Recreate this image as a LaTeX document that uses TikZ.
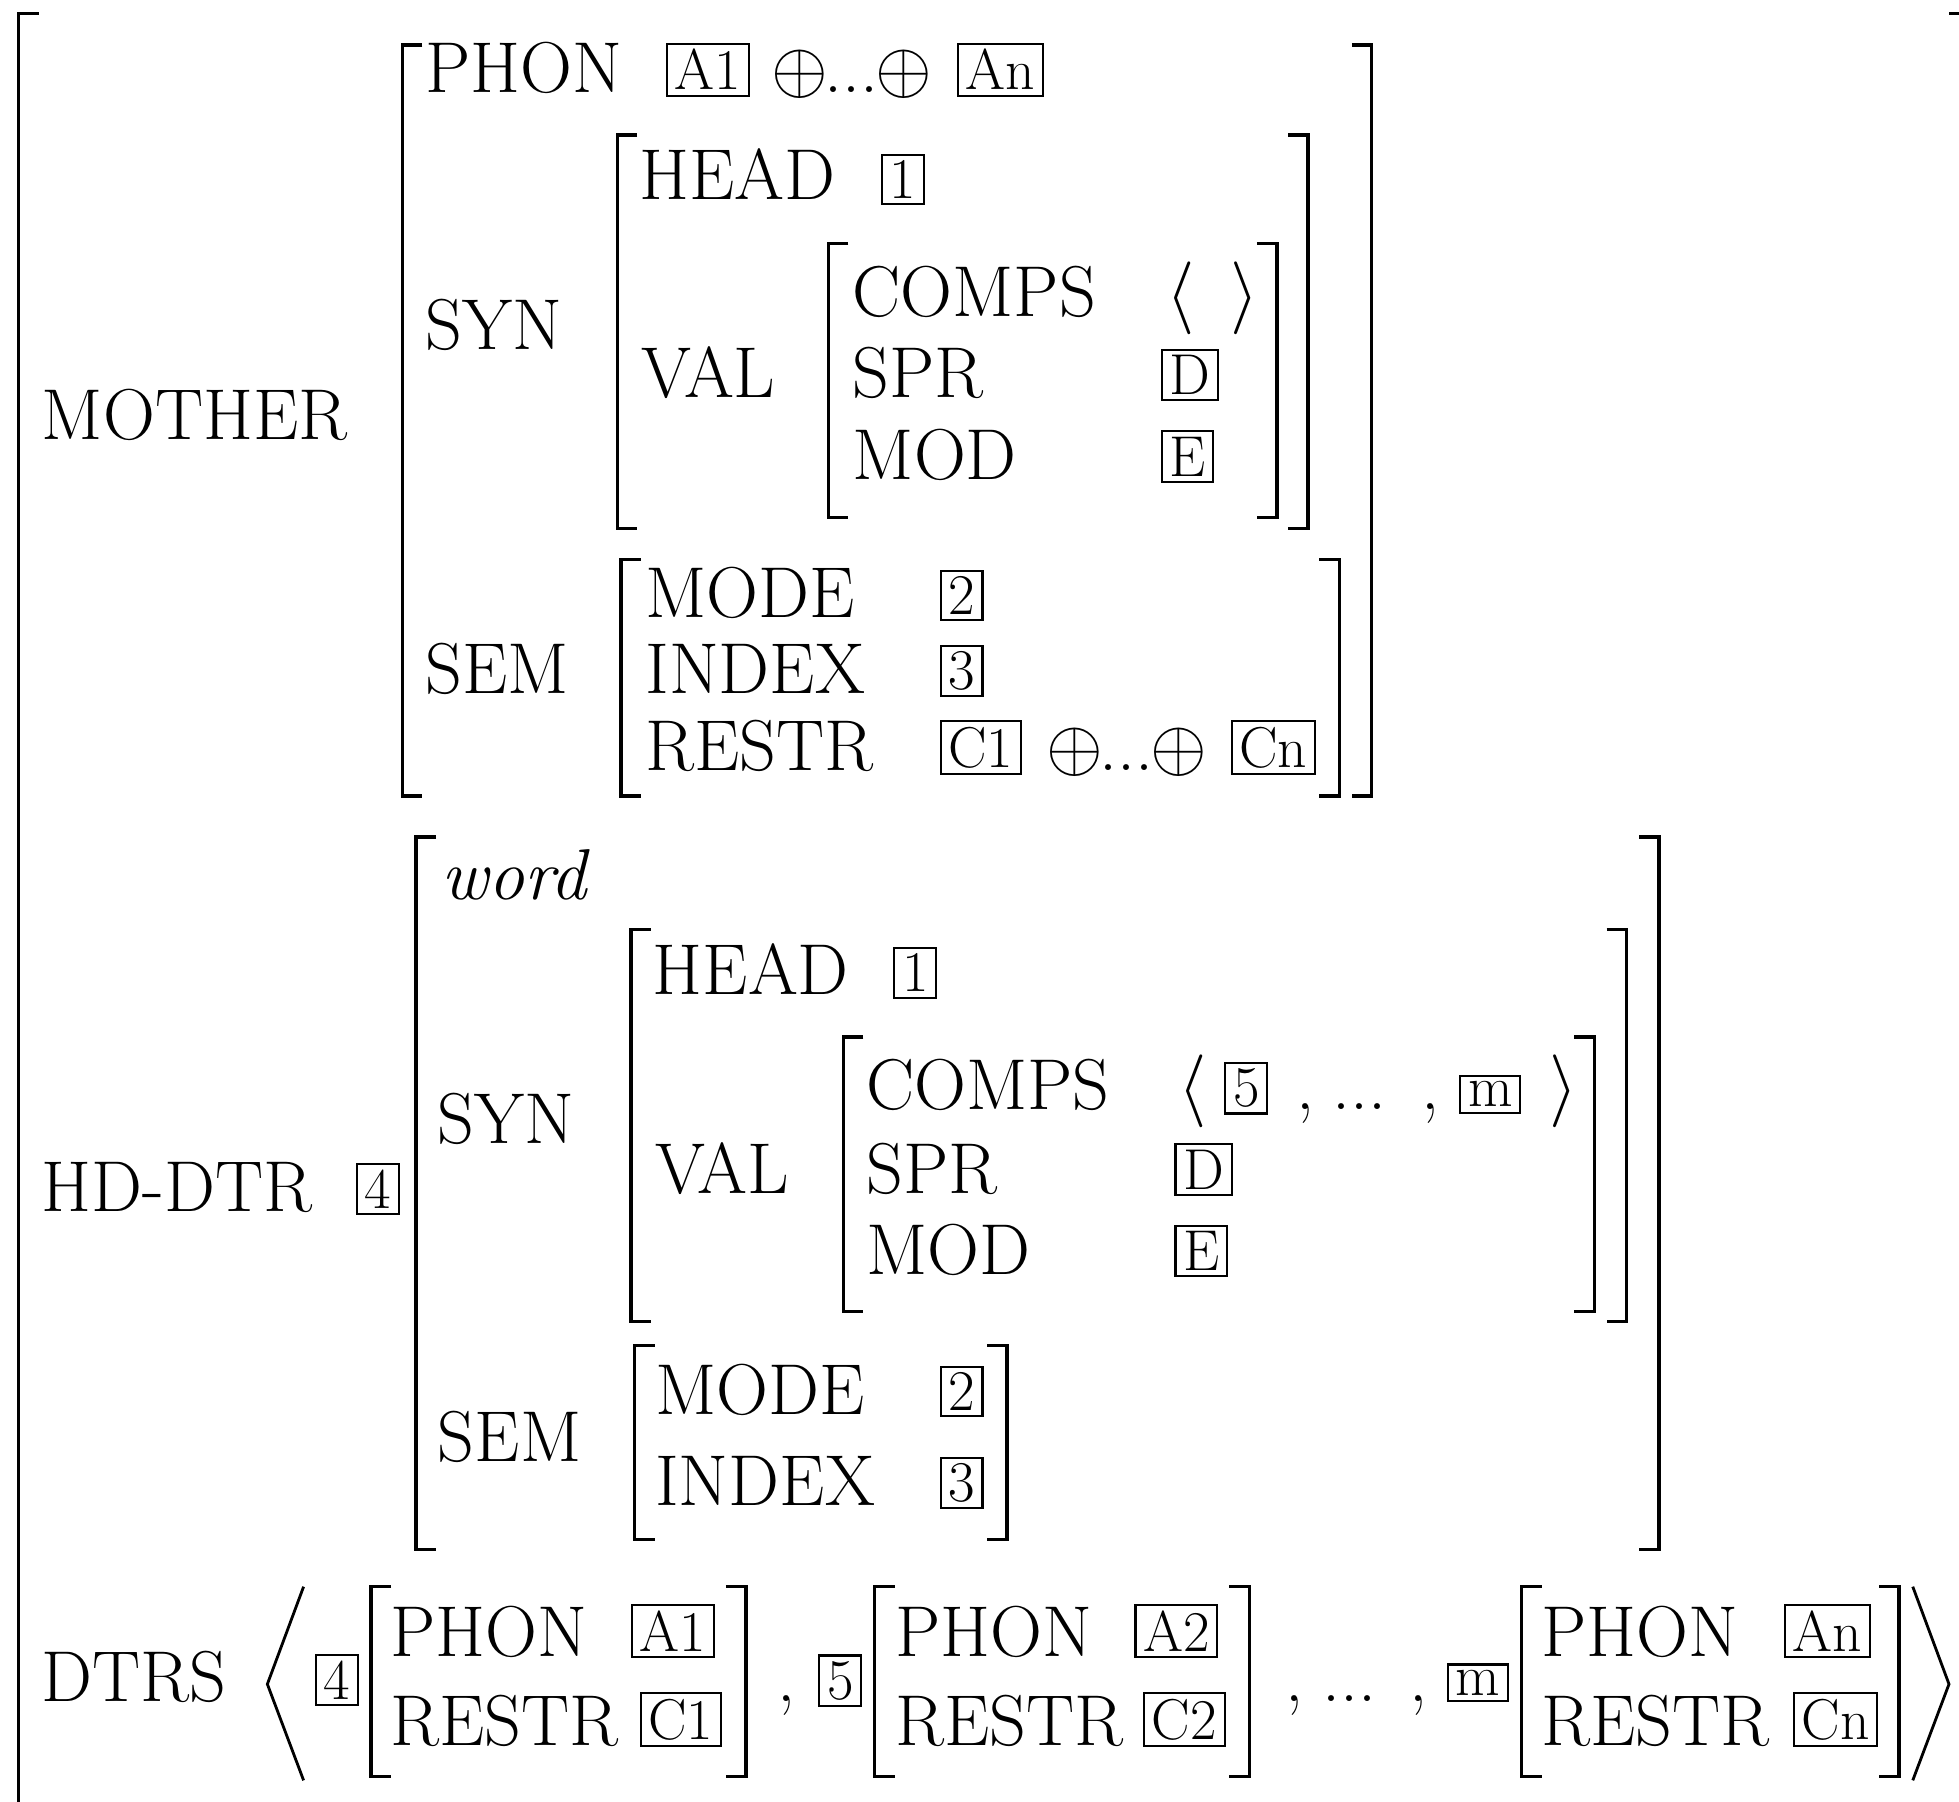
\documentclass[tikz,border=0pt]{standalone}
\usetikzlibrary{calc}
\newcommand{\avmfont}{\fontsize{20.5}{24}\selectfont}
\newcommand{\tagfont}{\fontsize{16.4}{19}\selectfont}
\tikzstyle{feat}=[anchor=base west, inner sep=0pt, font=\avmfont]
\tikzstyle{tagbox}=[draw, line width=0.6pt, anchor=base west, inner xsep=2.2pt, inner ysep=1.6pt, font=\tagfont]
\tikzstyle{brak}=[line width=0.95pt]
\tikzstyle{angbrak}=[line width=0.8pt]
\newcommand{\avmbrak}[4]{
 \draw[brak] ($(#1,#3)+(16,0)$) -- (#1,#3) -- (#1,#4) -- ($(#1,#4)+(16,0)$);
 \draw[brak] ($(#2,#3)-(16,0)$) -- (#2,#3) -- (#2,#4) -- ($(#2,#4)-(16,0)$);
}
\newcommand{\boxtag}[3]{
 \node[tagbox] (#1) at #2 {#3};
}
\begin{document}
\begin{tikzpicture}[x=0.012494cm, y=-0.012494cm]
 \useasboundingbox (0,0) rectangle (1568,1442);
 \draw[brak] (31,11) -- (15,11) -- (15,1450);
 \draw[brak] (1560,11) -- (1570,11);
%
 \node[feat] (mother) at (33,352) {MOTHER};
 \avmbrak{322}{1098}{36}{637}
 \node[feat] (m-phon) at (340,74) {PHON};
 \boxtag{m-a1}{(533,72)}{A1}
 \node[feat] (m-plus) at (617,74) {$\oplus$\kern-1pt...\kern-1pt$\oplus$};
 \boxtag{m-an}{(766,72)}{An}
 \node[feat] (m-syn) at (340,280) {SYN};
 \avmbrak{494}{1047}{108}{423}
 \node[feat] (m-head) at (511,160) {HEAD};
 \boxtag{m-t1}{(705,159)}{1}
 \node[feat] (m-val) at (513,318) {VAL};
 \avmbrak{663}{1022}{195}{414}
 \node[feat] (m-comps) at (682,253) {COMPS};
 \node[feat] (m-lang) at (933,253) {$\langle$};
 \node[feat] (m-rang) at (984,253) {$\rangle$};
 \node[feat] (m-spr) at (682,318) {SPR};
 \boxtag{m-d}{(929,316)}{D}
 \node[feat] (m-mod) at (682,384) {MOD};
 \boxtag{m-e}{(929,381)}{E}
 \node[feat] (m-sem) at (340,555) {SEM};
 \avmbrak{497}{1072}{448}{637}
 \node[feat] (m-mode) at (516,494) {MODE};
 \boxtag{m-t2}{(752,492)}{2}
 \node[feat] (m-index) at (516,555) {INDEX};
 \boxtag{m-t3}{(752,552)}{3}
 \node[feat] (m-restr) at (516,617) {RESTR};
 \boxtag{m-c1}{(752,614)}{C1}
 \node[feat] (m-cplus) at (837,617) {$\oplus$\kern-1pt...\kern-1pt$\oplus$};
 \boxtag{m-cn}{(985,614)}{Cn}
%
 \node[feat] (hd) at (33,970) {HD-DTR};
 \boxtag{hd-t4}{(285,967)}{4}
 \avmbrak{333}{1328}{670}{1240}
 \node[feat] (hd-word) at (353,720) {\textit{word}};
 \node[feat] (hd-syn) at (350,915) {SYN};
 \avmbrak{505}{1302}{744}{1058}
 \node[feat] (hd-head) at (522,796) {HEAD};
 \boxtag{hd-t1}{(715,794)}{1}
 \node[feat] (hd-val) at (524,955) {VAL};
 \avmbrak{675}{1276}{830}{1050}
 \node[feat] (hd-comps) at (693,888) {COMPS};
 \node[feat] (hd-lang) at (943,888) {$\langle$};
 \boxtag{hd-t5}{(980,886)}{5}
 \node[feat] (hd-c1) at (1037,888) {,};
 \node[feat] (hd-dots) at (1066,888) {...};
 \node[feat] (hd-c2) at (1137,888) {,};
 \boxtag{hd-tm}{(1168,886)}{m}
 \node[feat] (hd-rang) at (1240,888) {$\rangle$};
 \node[feat] (hd-spr) at (693,955) {SPR};
 \boxtag{hd-d}{(940,952)}{D}
 \node[feat] (hd-mod) at (693,1020) {MOD};
 \boxtag{hd-e}{(940,1017)}{E}
 \node[feat] (hd-sem) at (350,1170) {SEM};
 \avmbrak{508}{806}{1077}{1232}
 \node[feat] (hd-mode) at (524,1132) {MODE};
 \boxtag{hd-t2}{(752,1129)}{2}
 \node[feat] (hd-index) at (524,1205) {INDEX};
 \boxtag{hd-t3}{(752,1202)}{3}
%
 \node[feat] (dtrs) at (33,1362) {DTRS};
 \draw[angbrak] (243,1270) -- (214,1348) -- (243,1425);
 \boxtag{d-t4}{(252,1360)}{4}
 \avmbrak{297}{597}{1270}{1422}
 \node[feat] (d1-phon) at (312,1326) {PHON};
 \boxtag{d1-a}{(505,1322)}{A1}
 \node[feat] (d1-restr) at (312,1397) {RESTR};
 \boxtag{d1-c}{(512,1392)}{C1}
 \node[feat] (d-c1) at (622,1362) {,};
 \boxtag{d-t5}{(655,1360)}{5}
 \avmbrak{700}{1000}{1270}{1422}
 \node[feat] (d2-phon) at (716,1326) {PHON};
 \boxtag{d2-a}{(908,1322)}{A2}
 \node[feat] (d2-restr) at (716,1397) {RESTR};
 \boxtag{d2-c}{(915,1392)}{C2}
 \node[feat] (d-c2) at (1028,1362) {,};
 \node[feat] (d-dots) at (1058,1362) {...};
 \node[feat] (d-c3) at (1128,1362) {,};
 \boxtag{d-tm}{(1158,1357)}{m}
 \avmbrak{1218}{1520}{1270}{1422}
 \node[feat] (dn-phon) at (1233,1326) {PHON};
 \boxtag{dn-a}{(1428,1322)}{An}
 \node[feat] (dn-restr) at (1233,1397) {RESTR};
 \boxtag{dn-c}{(1435,1392)}{Cn}
 \draw[angbrak] (1531,1270) -- (1560,1348) -- (1531,1425);
\end{tikzpicture}
\end{document}
